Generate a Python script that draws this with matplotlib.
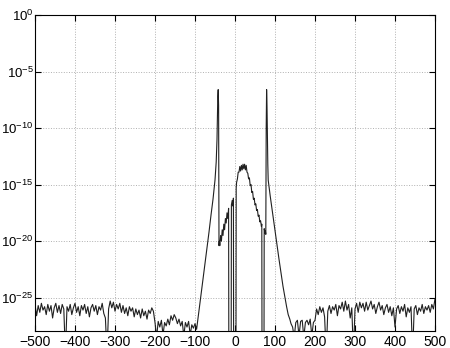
import numpy as np
import matplotlib
matplotlib.use("Agg")
import matplotlib.pyplot as plt
from matplotlib.ticker import FixedLocator, NullLocator

# noise floor, x = -500 ... -204 (step 4), log10 of the magnitude
left_noise_logy = [
    -25.6, -26.6, -25.7, -26.3, -25.5, -26.1, -25.8, -26.5, -25.6, -26.2,
    -25.7, -26.8, -25.9, -25.5, -26.3, -25.7, -26.4, -25.6, -26.0, -30.0,
    -25.8, -26.2, -25.6, -26.5, -25.9, -25.5, -26.3, -25.8, -26.6, -25.7,
    -26.1, -25.6, -26.4, -25.8, -26.7, -25.9, -25.6, -26.2, -25.7, -26.5,
    -25.8, -26.1, -25.5, -26.4, -26.8, -30.0, -26.0, -25.3, -25.9, -25.4,
    -26.2, -25.6, -26.0, -25.5, -26.3, -25.7, -26.4, -25.9, -26.6, -25.8,
    -26.2, -25.9, -26.7, -26.0, -26.5, -26.1, -26.8, -26.0, -26.6, -26.2,
    -26.9, -26.1, -26.4, -25.9, -26.2,
]
# low floor, x = -200 ... -96 (step 4)
left_low_logy = [
    -27.2, -28.5, -27.1, -27.6, -27.0, -28.3, -27.2, -27.5, -26.9, -27.4,
    -26.6, -27.0, -26.5, -26.8, -27.3, -26.9, -27.5, -27.1, -28.4, -27.2,
    -27.6, -27.1, -28.3, -27.4, -27.7, -27.3, -27.8,
]
# central part: skirts, the two spikes and the bump
center_x = [
    -92, -85, -80, -75, -70, -65, -60, -55, -50, -47, -45, -44, -43, -42, -41, -40,
    -39, -38, -36, -34, -32, -30, -28, -26, -24, -22, -20, -18, -16, -15, -10,
    -9, -7, -5, -4, -3, 2,
    3, 4, 6, 8, 10, 12, 14, 16, 18, 20, 22, 24, 26, 28, 30, 32, 34, 36, 38, 40,
    42, 44, 46, 48, 50, 52, 54, 56, 58, 60, 62, 64, 66, 67, 68, 72,
    73, 75, 76, 77, 78, 79, 80, 81, 82, 83, 88, 95, 100, 105, 110, 115, 120,
    125, 129, 133, 137, 140,
]
center_logy = [
    -26.7, -24.8, -23.4, -22.0, -20.6, -19.2, -17.7, -16.3, -14.6, -13.0, -11.0, -9.0, -7.2, -6.6, -8.0, -20.4,
    -20.0, -20.4, -19.5, -20.0, -19.0, -19.5, -18.5, -19.0, -18.0, -18.4, -17.5, -18.0, -17.1, -40.0, -40.0,
    -16.8, -16.4, -16.9, -16.2, -40.0, -40.0,
    -15.3, -14.8, -14.5, -13.9, -13.9, -13.4, -13.8, -13.3, -13.7, -13.2, -13.6, -13.2, -13.7, -13.3, -13.9, -14.0, -14.5, -14.4, -15.1, -15.0,
    -15.7, -15.6, -16.3, -16.2, -16.8, -16.7, -17.3, -17.2, -17.8, -17.7, -18.3, -18.2, -18.7, -18.5, -40.0, -40.0,
    -18.9, -19.3, -19.1, -19.4, -10.0, -6.6, -8.0, -11.0, -13.2, -14.6, -16.0, -17.8, -19.1, -20.4, -21.6, -22.8, -24.0,
    -25.0, -25.8, -26.5, -26.9, -27.3,
]
# low floor, x = 144 ... 200 (step 4)
right_low_logy = [
    -27.6, -28.5, -27.2, -27.0, -28.4, -27.1, -27.0, -28.5, -27.2, -27.0,
    -27.4, -26.9, -28.4, -27.2, -27.0,
]
# noise floor, x = 204 ... 500 (step 4)
right_noise_logy = [
    -26.0, -26.5, -25.8, -26.3, -25.9, -26.7, -30.0, -26.2, -25.7, -26.4,
    -25.8, -26.1, -25.6, -26.6, -25.7, -26.0, -25.4, -26.2, -25.3, -26.1,
    -25.6, -26.8, -25.9, -30.0, -26.0, -25.5, -26.3, -25.4, -25.9, -25.5,
    -26.2, -25.4, -26.1, -25.7, -25.3, -26.0, -25.6, -26.4, -25.8, -25.4,
    -26.1, -25.7, -26.5, -25.9, -25.6, -26.3, -25.8, -26.6, -25.9, -27.6,
    -26.0, -25.7, -26.4, -25.8, -26.2, -25.6, -26.7, -25.9, -26.3, -25.8,
    -30.0, -26.0, -25.7, -26.5, -25.9, -26.2, -25.6, -26.4, -25.8, -26.1,
    -25.7, -26.3, -25.6, -26.0, -25.1,
]

x = np.concatenate([
    np.arange(-500, -203, 4),
    np.arange(-200, -95, 4),
    center_x,
    np.arange(144, 201, 4),
    np.arange(204, 501, 4),
])
logy = np.concatenate([left_noise_logy, left_low_logy, center_logy,
                       right_low_logy, right_noise_logy])
assert len(x) == len(logy), (len(x), len(logy))
y = 10.0 ** logy

plt.rcParams['font.family'] = ['Liberation Sans', 'DejaVu Sans']
plt.rcParams['mathtext.fontset'] = 'custom'
plt.rcParams['mathtext.rm'] = 'Liberation Sans'

fig = plt.figure(figsize=(4.5, 3.48), dpi=100)
ax = fig.add_axes([35 / 450, 17 / 348, 400 / 450, 316 / 348])
ax.semilogy(x, y, color='#202020', lw=0.8)

ax.set_xlim(-500, 500)
ax.set_ylim(10 ** -27.95, 1)
ax.xaxis.set_major_locator(FixedLocator(np.arange(-500, 501, 100)))
ax.yaxis.set_major_locator(FixedLocator([1e-25, 1e-20, 1e-15, 1e-10, 1e-5, 1e0]))
ax.yaxis.set_minor_locator(NullLocator())
ax.grid(True, which='major', linestyle=':', color='#b0b0b0', lw=0.7)
ax.tick_params(direction='in', top=True, right=True, length=4, labelsize=10)
ax.tick_params(axis='x', pad=3)
ax.tick_params(axis='y', pad=1, labelsize=9.5)
for s in ax.spines.values():
    s.set_linewidth(0.8)

fig.savefig('out.png', dpi=100)
